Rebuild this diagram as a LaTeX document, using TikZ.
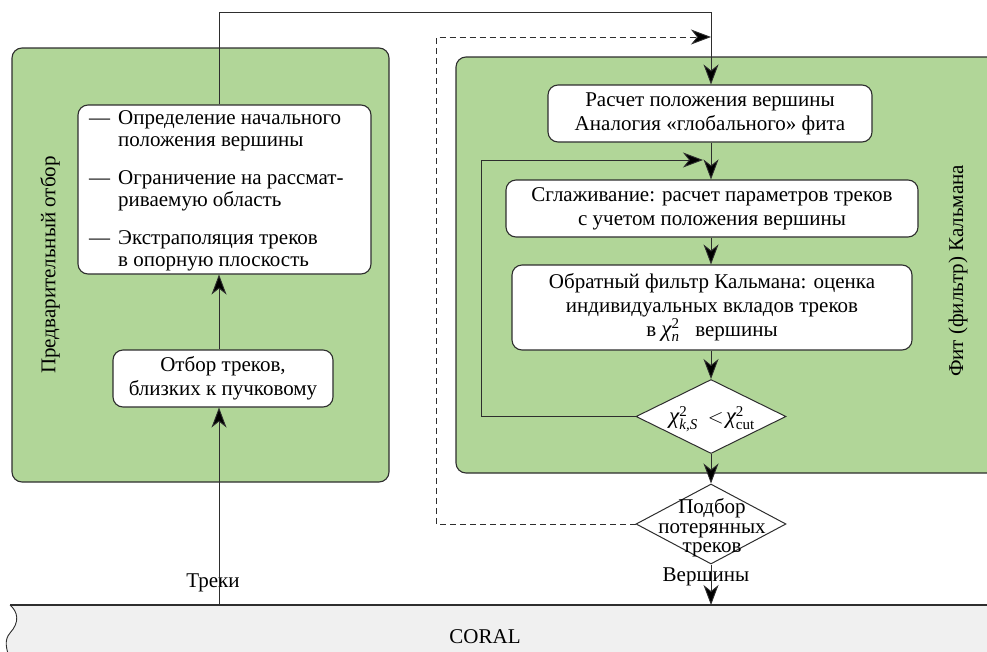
\documentclass[tikz,border=0pt]{standalone}
\usepackage{fontspec}
\setmainfont{Liberation Serif}
\newfontfamily\tnr{Liberation Serif}
\usetikzlibrary{shapes.geometric,arrows.meta}
\definecolor{grn}{HTML}{B1D698}
\definecolor{edgec}{HTML}{2E2E2E}
\definecolor{bandc}{HTML}{F0F0F0}
\newcommand{\chiI}{\mbox{\tnr\fontsize{23}{23}\selectfont\itshape χ}}
\newcommand{\smallI}[1]{\mbox{\tnr\fontsize{15}{15}\selectfont #1}}
\begin{document}
\begin{tikzpicture}[x=1pt,y=-1pt,
  font=\tnr\fontsize{21}{24}\selectfont,
  panel/.style={draw=edgec, fill=grn, line width=1.1pt, rounded corners=10pt, inner sep=0pt},
  whitebox/.style={draw=edgec, fill=white, line width=1.1pt, rounded corners=10pt, align=center, inner sep=0pt},
  decision/.style={diamond, draw=edgec, fill=white, line width=1pt, inner sep=0pt},
  flow/.style={line width=0.9pt, draw=edgec, -{Stealth[length=20pt,width=15pt,inset=6pt,fill=black]}},
  lbl/.style={inner sep=0pt, align=center}]
\useasboundingbox (0,0) rectangle (987,651);
\clip (0,0) rectangle (987,651);

% panels
\node[panel, minimum width=377pt, minimum height=434pt] (leftpanel) at (200.5,265) {};
\node[panel, minimum width=544pt, minimum height=416pt] (rightpanel) at (728,265) {};
\node[lbl, rotate=90] (leftlbl) at (50,265) {Предварительный отбор};
\node[lbl, rotate=90] (rightlbl) at (958,271) {Фит (фильтр) Кальмана};

% CORAL band
\path[fill=bandc] (10,605) -- (1000,605) -- (1000,660) -- (10,660)
  .. controls (6,648) and (4,640) .. (10,633) .. controls (20,622) and (18,612) .. (10,605);
\draw[line width=1.2pt, draw=edgec] (10,605) -- (1000,605);
\draw[line width=0.9pt, draw=edgec] (10,605) .. controls (18,612) and (20,622) .. (10,633)
  .. controls (4,640) and (6,648) .. (10,660);
\node[lbl] (coral) at (485,637) {CORAL};

% left column
\node[whitebox, minimum width=293pt, minimum height=169pt] (A) at (224.5,189.5) {};
\node[lbl, anchor=north west, align=left] (Alist) at (89,109) {\fontsize{21}{22}\selectfont
\begin{tabular}{@{}l@{\hspace{8pt}}l@{}}
— & Определение начального\\
  & положения вершины\\[16pt]
— & Ограничение на рассмат-\\
  & риваемую область\\[16pt]
— & Экстраполяция треков\\
  & в опорную плоскость
\end{tabular}};
\node[whitebox, minimum width=220pt, minimum height=57pt] (B) at (223,378.5) {Отбор треков,\\близких к пучковому};
\node[lbl] (treki) at (213,583) {Треки};

% right column
\node[whitebox, minimum width=324pt, minimum height=57pt] (C) at (710,113.5) {Расчет положения вершины\\Аналогия «глобального» фита};
\node[whitebox, minimum width=412pt, minimum height=57pt] (D) at (712,208.5) {Сглаживание: расчет параметров треков\\с учетом положения вершины};
\node[whitebox, minimum width=400pt, minimum height=85pt] (E) at (712,307.5) {Обратный фильтр Кальмана: оценка\\индивидуальных вкладов треков\\в $\chiI^{\smallI{2}}_{\smallI{\itshape n}}$\ \ \ вершины};
\node[decision, minimum width=150pt, minimum height=74pt] (F) at (711,416.5) {};
\node[lbl] (Ftext) at (712,419) {$\chiI^{\smallI{2}}_{\smallI{\itshape k,S}}$\hspace{10pt}$<\!\chiI^{\smallI{2}}_{\smallI{cut}}$};
\node[decision, minimum width=150pt, minimum height=80pt] (G) at (711,524) {};
\node[lbl, font=\tnr\fontsize{21}{19.5}\selectfont] (Gtext) at (712,528) {Подбор\\потерянных\\треков};
\node[lbl] (vershiny) at (706,577) {Вершины};

% helper coordinates
\coordinate (colL) at (219,12);
\coordinate (dashTop) at (436,37);
\coordinate (dashEnd) at (711,37);
\coordinate (fbLeft) at (481,160);
\coordinate (fbEnd) at (703,160);
\coordinate (coralIn) at (711,605);
\coordinate (coralOut) at (219,605);

% connectors
\draw[flow] (coralOut) -- (colL |- B.south);
\draw[flow] (colL |- B.north) -- (colL |- A.south);
\draw[flow] (colL |- A.north) -- (colL) -| (C.north -| F.north);
\draw[flow] (C.south -| F.north) -- (D.north -| F.north);
\draw[flow] (D.south -| F.north) -- (E.north -| F.north);
\draw[flow] (E.south -| F.north) -- (F.north);
\draw[flow] (F.south) -- (G.north);
\draw[flow] (G.south) -- (coralIn);
\draw[flow] (F.west) -| (fbLeft) -- (fbEnd);
\draw[flow, dashed, dash pattern=on 6pt off 4pt] (G.west) -| (dashTop) -- (dashEnd);
\end{tikzpicture}
\end{document}
